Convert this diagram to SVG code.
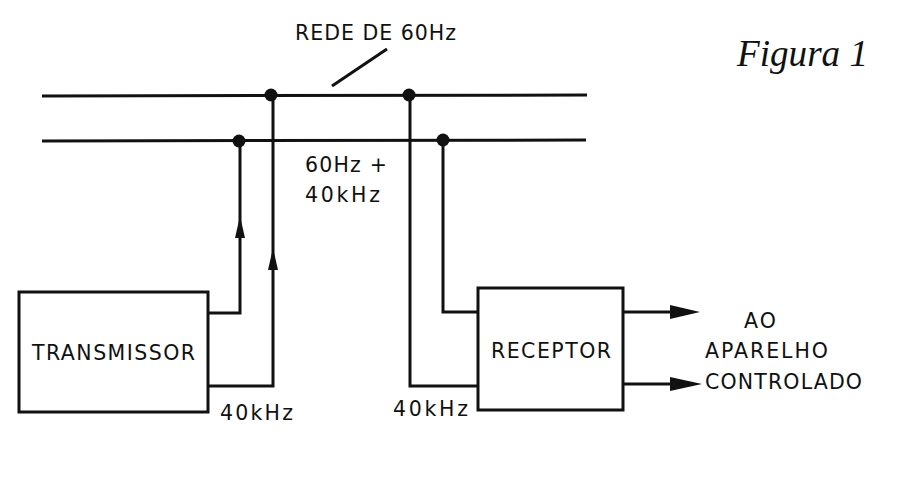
<svg xmlns="http://www.w3.org/2000/svg" width="902" height="477" viewBox="0 0 902 477">
<style>
.w{fill:none;stroke:#111;stroke-width:3;stroke-linejoin:miter}
.b{fill:#fff;stroke:#111;stroke-width:3}
.t{font-family:"DejaVu Sans","Liberation Sans",Arial,sans-serif;font-size:20.5px;fill:#111}
.d{fill:#111}
</style>
<rect width="902" height="477" fill="#fff"/>
<g id="rede">
<line class="w" x1="42" y1="96" x2="587" y2="95"/>
<line class="w" x1="42" y1="141" x2="586" y2="140"/>
<line class="w" x1="332" y1="86" x2="387" y2="49" stroke-width="2.5"/>
<text class="t" x="295" y="40" textLength="161" lengthAdjust="spacing">REDE DE 60Hz</text>
</g>
<g id="transmissor">
<rect class="b" x="19" y="292" width="189" height="120"/>
<text class="t" x="32" y="360" textLength="163" lengthAdjust="spacing">TRANSMISSOR</text>
</g>
<g id="receptor">
<rect class="b" x="478" y="288" width="145" height="122"/>
<text class="t" x="491" y="358" textLength="120" lengthAdjust="spacing">RECEPTOR</text>
</g>
<g id="connectors">
<path class="w" d="M208,313 H240 V141"/>
<path class="w" d="M208,386 H273 V95"/>
<path class="w" d="M478,386 H410 V95"/>
<path class="w" d="M478,312 H443 V140"/>
<polygon class="d" points="240,216 235,238 245,238"/>
<polygon class="d" points="273,248 268,270 278,270"/>
<line class="w" x1="623" y1="312" x2="675" y2="312"/>
<polygon class="d" points="670,305 700,312 670,319"/>
<line class="w" x1="623" y1="384" x2="675" y2="384"/>
<polygon class="d" points="670,377 702,384 670,391"/>
<circle class="d" cx="271" cy="95" r="6.5"/>
<circle class="d" cx="409" cy="95" r="6.5"/>
<circle class="d" cx="239" cy="141" r="6.5"/>
<circle class="d" cx="443" cy="140" r="6.5"/>
</g>
<g id="labels">
<text class="t" x="305" y="172" textLength="82" lengthAdjust="spacing">60Hz +</text>
<text class="t" x="305" y="202" textLength="75" lengthAdjust="spacing">40kHz</text>
<text class="t" x="220" y="420" textLength="73" lengthAdjust="spacing">40kHz</text>
<text class="t" x="393" y="416" textLength="75" lengthAdjust="spacing">40kHz</text>
<text class="t" x="744" y="328" textLength="32" lengthAdjust="spacing">AO</text>
<text class="t" x="705" y="358" textLength="123" lengthAdjust="spacing">APARELHO</text>
<text class="t" x="705" y="389" textLength="157" lengthAdjust="spacing">CONTROLADO</text>
<text x="737" y="66" font-family="Liberation Serif,'Times New Roman',serif" font-style="italic" font-size="38" fill="#111" textLength="131" lengthAdjust="spacingAndGlyphs">Figura 1</text>
</g>
</svg>
